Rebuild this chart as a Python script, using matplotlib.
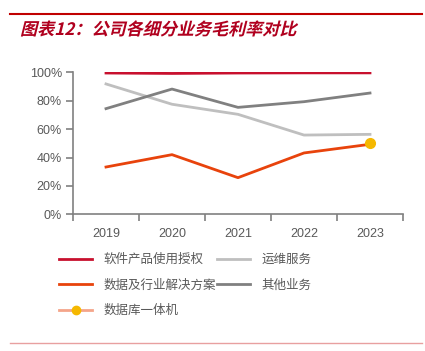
import numpy as np
import matplotlib
matplotlib.use('Agg')
import matplotlib.pyplot as plt
from matplotlib import patheffects
from matplotlib.transforms import Affine2D
from matplotlib.lines import Line2D

plt.rcParams['font.family'] = ['Liberation Sans', 'Noto Sans CJK SC', 'DejaVu Sans']

years = ['2019', '2020', '2021', '2022', '2023']
software = [99.5, 99.2, 99.5, 99.6, 99.6]
ops = [91.8, 77.5, 70.4, 55.8, 56.3]
solutions = [33.3, 42.0, 25.8, 43.2, 49.3]
other = [74.4, 88.2, 75.3, 79.3, 85.4]
appliance = [np.nan, np.nan, np.nan, np.nan, 50.0]

names = ['软件产品使用授权', '运维服务', '数据及行业解决方案', '其他业务', '数据库一体机']
colors = ['#C8102E', '#BFBFBF', '#E8430C', '#808080', '#F4A58A']


class Slant(patheffects.AbstractPathEffect):
    # fake italic: shear glyph paths around the text anchor
    def draw_path(self, renderer, gc, tpath, affine, rgbFace=None):
        m = affine.get_matrix()
        tx, ty = m[0, 2], m[1, 2]
        sk = Affine2D().translate(-tx, -ty).skew_deg(14, 0).translate(tx, ty)
        renderer.draw_path(gc, tpath, affine + sk, rgbFace)


fig = plt.figure(figsize=(4.25, 3.51), dpi=100)
ax = fig.add_axes([73 / 425, 1 - 214.3 / 351, 330 / 425, 142 / 351])

x = np.arange(len(years))
ax.plot(x, software, color=colors[0], lw=2)
ax.plot(x, ops, color=colors[1], lw=2)
ax.plot(x, solutions, color=colors[2], lw=2)
ax.plot(x, other, color=colors[3], lw=2)
ax.plot(x, appliance, color=colors[4], lw=2, marker='o', ms=7,
        mfc='#F5B800', mec='#F5B800')

ax.set_xlim(-0.5, 4.5)
ax.set_ylim(0, 100)
ax.set_yticks(np.arange(0, 101, 20))
ax.set_yticklabels([f'{v}%' for v in range(0, 101, 20)])
ax.set_xticks(np.arange(-0.5, 5, 1))
ax.set_xticklabels([])
ax.set_xticks(x, minor=True)
ax.set_xticklabels(years, minor=True)

for s in ['top', 'right']:
    ax.spines[s].set_visible(False)
for s in ['left', 'bottom']:
    ax.spines[s].set_color('#808080')
    ax.spines[s].set_linewidth(1.2)
ax.tick_params(axis='both', which='major', color='#808080', length=5, width=1.2,
               labelcolor='#595959', labelsize=9)
ax.tick_params(axis='x', which='minor', length=0, pad=10, labelcolor='#595959', labelsize=9)
ax.tick_params(axis='y', pad=3)

# legend
handles = [
    Line2D([], [], color=colors[0], lw=2),
    Line2D([], [], color=colors[2], lw=2),
    Line2D([], [], color=colors[4], lw=2, marker='o', ms=6, mfc='#F5B800', mec='#F5B800'),
    Line2D([], [], color=colors[1], lw=2),
    Line2D([], [], color=colors[3], lw=2),
]
labels = [names[0], names[2], names[4], names[1], names[3]]
leg = fig.legend(handles, labels, loc='upper left', bbox_to_anchor=(59 / 425, 1 - 253 / 351),
                 ncol=2, frameon=False, prop={'family': 'Noto Sans CJK SC', 'size': 9},
                 handlelength=2.65, handletextpad=0.9, labelspacing=1.0,
                 columnspacing=0.1, borderpad=0, borderaxespad=0)
for t in leg.get_texts():
    t.set_color('#595959')

# header / footer rules and title
fig.add_artist(Line2D([10 / 425, 422 / 425], [1 - 14 / 351] * 2, color='#C00000', lw=1.5))
fig.add_artist(Line2D([10 / 425, 422 / 425], [1 - 343 / 351] * 2, color='#E8A0A0', lw=1))
fig.text(20 / 425, 1 - 30 / 351, '图表12：公司各细分业务毛利率对比', color='#B0001E',
         fontsize=12.3, fontweight='bold', va='center', ha='left',
         family=['Noto Sans CJK SC', 'DejaVu Sans'], path_effects=[Slant()])

fig.savefig('out.png', dpi=100)
